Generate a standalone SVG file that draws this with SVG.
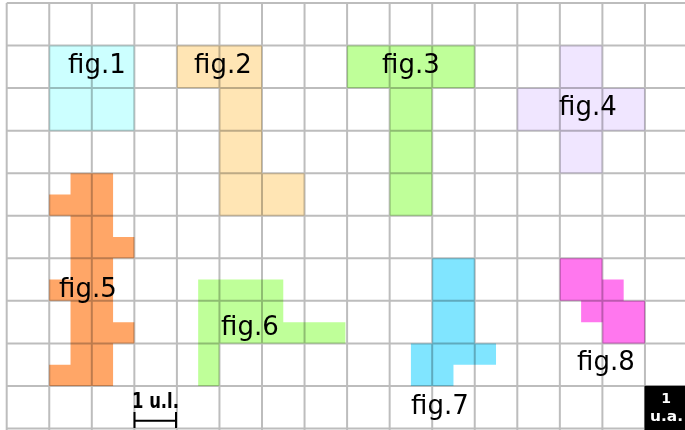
<svg xmlns="http://www.w3.org/2000/svg" width="685" height="430" viewBox="0 0 685 430">
<style>
.shape{mix-blend-mode:multiply}
.lbl{font-family:"DejaVu Sans","Liberation Sans",sans-serif;font-size:26px;fill:#000}
.bold{font-family:"DejaVu Sans","Liberation Sans",sans-serif;font-weight:bold}
.grid line{stroke:#bdbdbd;stroke-width:2;vector-effect:non-scaling-stroke}
</style>
<rect width="685" height="430" fill="#fff"/>
<g id="grid" class="grid" transform="translate(6.7 3) scale(42.55)">
<line x1="0" y1="0" x2="0" y2="10.1"/><line x1="1" y1="0" x2="1" y2="10.1"/><line x1="2" y1="0" x2="2" y2="10.1"/><line x1="3" y1="0" x2="3" y2="10.1"/><line x1="4" y1="0" x2="4" y2="10.1"/><line x1="5" y1="0" x2="5" y2="10.1"/><line x1="6" y1="0" x2="6" y2="10.1"/><line x1="7" y1="0" x2="7" y2="10.1"/><line x1="8" y1="0" x2="8" y2="10.1"/><line x1="9" y1="0" x2="9" y2="10.1"/><line x1="10" y1="0" x2="10" y2="10.1"/><line x1="11" y1="0" x2="11" y2="10.1"/><line x1="12" y1="0" x2="12" y2="10.1"/><line x1="13" y1="0" x2="13" y2="10.1"/><line x1="14" y1="0" x2="14" y2="10.1"/><line x1="15" y1="0" x2="15" y2="10.1"/>
<line x1="0" y1="0" x2="16" y2="0"/><line x1="0" y1="1" x2="16" y2="1"/><line x1="0" y1="2" x2="16" y2="2"/><line x1="0" y1="3" x2="16" y2="3"/><line x1="0" y1="4" x2="16" y2="4"/><line x1="0" y1="5" x2="16" y2="5"/><line x1="0" y1="6" x2="16" y2="6"/><line x1="0" y1="7" x2="16" y2="7"/><line x1="0" y1="8" x2="16" y2="8"/><line x1="0" y1="9" x2="16" y2="9"/><line x1="0" y1="10" x2="16" y2="10"/>
</g>
<g id="fig1"><path class="shape" transform="translate(6.7 3) scale(42.55)" fill="#ccffff" d="M1 1H3V3H1Z"/><text class="lbl" x="68" y="73">fig.1</text></g>
<g id="fig2"><path class="shape" transform="translate(6.7 3) scale(42.55)" fill="#ffe5b4" d="M4 1H6V4H7V5H5V2H4Z"/><text class="lbl" x="194" y="73">fig.2</text></g>
<g id="fig3"><path class="shape" transform="translate(6.7 3) scale(42.55)" fill="#bfff99" d="M8 1H11V2H10V5H9V2H8Z"/><text class="lbl" x="382" y="73">fig.3</text></g>
<g id="fig4"><path class="shape" transform="translate(6.7 3) scale(42.55)" fill="#f0e6ff" d="M13 1H14V2H15V3H14V4H13V3H12V2H13Z"/><text class="lbl" x="559" y="115">fig.4</text></g>
<g id="fig5"><path class="shape" transform="translate(6.7 3) scale(42.55)" fill="#ffa667" d="M1.5 4H2.5V5.5H3V6H2.5V7.5H3V8H2.5V9H1V8.5H1.5V7H1V6.5H1.5V5H1V4.5H1.5Z"/><text class="lbl" x="59" y="297">fig.5</text></g>
<g id="fig6"><path class="shape" transform="translate(6.7 3) scale(42.55)" fill="#bfff99" d="M4.5 6.5H6.5V7.5H7.96V8H5V9H4.5Z"/><text class="lbl" x="221" y="335">fig.6</text></g>
<g id="fig7"><path class="shape" transform="translate(6.7 3) scale(42.55)" fill="#80e5ff" d="M10 6H11V8H11.5V8.5H10.5V9H9.5V8H10Z"/><text class="lbl" x="411" y="414">fig.7</text></g>
<g id="fig8"><path class="shape" transform="translate(6.7 3) scale(42.55)" fill="#ff77ee" d="M13 6H14V6.5H14.5V7H15V8H14V7.5H13.5V7H13Z"/><text class="lbl" x="577" y="370">fig.8</text></g>
<g id="scale-length">
<text class="bold" x="132" y="408.3" font-size="21" textLength="47" lengthAdjust="spacingAndGlyphs">1 u.l.</text>
<path d="M134.5 412V428M176 412V428M134.5 420.7H176" stroke="#000" stroke-width="2" fill="none"/>
</g>
<g id="scale-area">
<rect x="644.5" y="385.8" width="41" height="45" fill="#000"/>
<text class="bold" x="666" y="403" font-size="14" fill="#fff" text-anchor="middle">1</text>
<text class="bold" x="666.5" y="420.7" font-size="14" fill="#fff" text-anchor="middle" textLength="33" lengthAdjust="spacingAndGlyphs">u.a.</text>
</g>
</svg>
